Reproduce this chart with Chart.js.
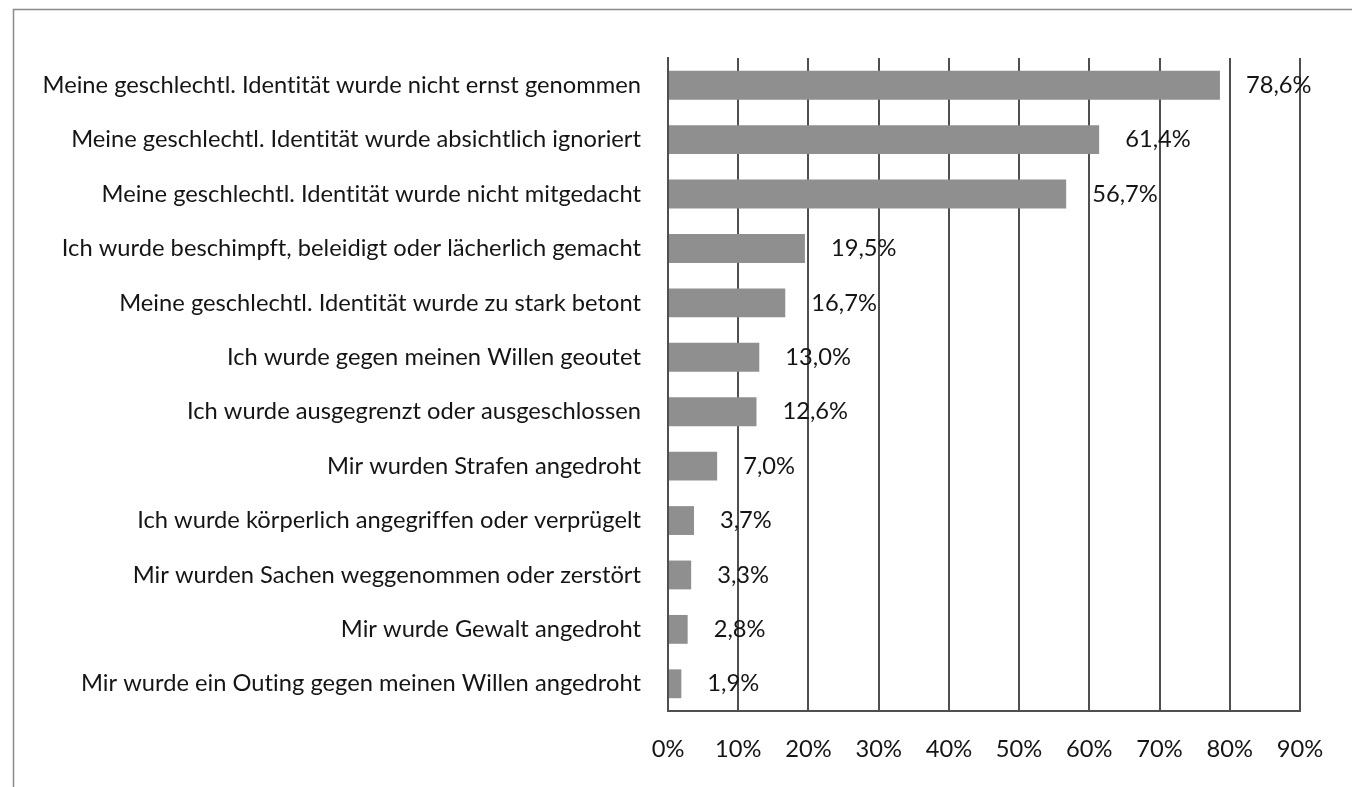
<!DOCTYPE html>
<html>
<head>
<meta charset="utf-8">
<script src="https://cdn.jsdelivr.net/npm/chart.js@4.4.1/dist/chart.umd.min.js"></script>
<style>
  html, body { margin: 0; padding: 0; background: #fff; }
  #wrap { width: 1352px; height: 787px; position: relative; }
</style>
</head>
<body>
<div id="wrap"><canvas id="c" width="1352" height="787"></canvas></div>
<script>
const categories = [
  "Meine geschlechtl. Identität wurde nicht ernst genommen",
  "Meine geschlechtl. Identität wurde absichtlich ignoriert",
  "Meine geschlechtl. Identität wurde nicht mitgedacht",
  "Ich wurde beschimpft, beleidigt oder lächerlich gemacht",
  "Meine geschlechtl. Identität wurde zu stark betont",
  "Ich wurde gegen meinen Willen geoutet",
  "Ich wurde ausgegrenzt oder ausgeschlossen",
  "Mir wurden Strafen angedroht",
  "Ich wurde körperlich angegriffen oder verprügelt",
  "Mir wurden Sachen weggenommen oder zerstört",
  "Mir wurde Gewalt angedroht",
  "Mir wurde ein Outing gegen meinen Willen angedroht"
];
const values = [78.6, 61.4, 56.7, 19.5, 16.7, 13.0, 12.6, 7.0, 3.7, 3.3, 2.8, 1.9];
const valueLabels = ["78,6%", "61,4%", "56,7%", "19,5%", "16,7%", "13,0%", "12,6%", "7,0%", "3,7%", "3,3%", "2,8%", "1,9%"];

const FAMILY = "Lato, 'Open Sans', sans-serif";
const LS = '0.01px'; // non-zero letter spacing disables the "ti" ligature
// fit font size so the longest label matches the reference width
const mctx = document.createElement('canvas').getContext('2d');
mctx.font = "100px " + FAMILY;
mctx.letterSpacing = LS;
const w100 = mctx.measureText(categories[0]).width;
const FS = Math.round(100 * 598 / w100 * 10) / 10;
const TEXT = '#151515';
const GRID = '#4f4f4f';

const frame = {
  id: 'frame',
  beforeDraw(chart) {
    const ctx = chart.ctx;
    ctx.letterSpacing = LS;
    ctx.save();
    ctx.strokeStyle = '#8a8a8a';
    ctx.lineWidth = 1.5;
    ctx.beginPath();
    ctx.moveTo(13.5, 787);
    ctx.lineTo(13.5, 9.5);
    ctx.lineTo(1352, 9.5);
    ctx.stroke();
    ctx.restore();
  }
};

const dataLabels = {
  id: 'dataLabels',
  afterDatasetsDraw(chart) {
    const ctx = chart.ctx;
    const meta = chart.getDatasetMeta(0);
    ctx.save();
    ctx.letterSpacing = LS;
    ctx.font = FS + "px " + FAMILY;
    ctx.fillStyle = TEXT;
    ctx.textAlign = 'left';
    ctx.textBaseline = 'middle';
    meta.data.forEach((bar, i) => {
      ctx.fillText(valueLabels[i], bar.x + 26, bar.y);
    });
    ctx.restore();
  }
};

new Chart(document.getElementById('c'), {
  type: 'bar',
  data: {
    labels: categories,
    datasets: [{
      data: values,
      backgroundColor: '#8f8f8f',
      borderWidth: 0,
      barPercentage: 0.53,
      categoryPercentage: 1.0
    }]
  },
  options: {
    indexAxis: 'y',
    responsive: false,
    animation: false,
    devicePixelRatio: 1,
    layout: { padding: { top: 58, right: 52, left: 0, bottom: 0 } },
    plugins: { legend: { display: false }, tooltip: { enabled: false } },
    scales: {
      x: {
        min: 0, max: 90,
        grid: { display: true, color: GRID, lineWidth: 2, drawTicks: false },
        border: { display: true, color: GRID, width: 2 },
        ticks: {
          stepSize: 10,
          padding: 24,
          color: TEXT,
          font: { family: FAMILY, size: FS },
          callback: v => v + '%'
        },
        afterFit(scale) { scale.height = 76; }
      },
      y: {
        grid: { display: false, drawTicks: false },
        border: { display: true, color: GRID, width: 2 },
        ticks: {
          padding: 27,
          color: TEXT,
          font: { family: FAMILY, size: FS },
          autoSkip: false
        },
        afterFit(scale) { scale.width = 668; }
      }
    }
  },
  plugins: [frame, dataLabels]
});
</script>
</body>
</html>
